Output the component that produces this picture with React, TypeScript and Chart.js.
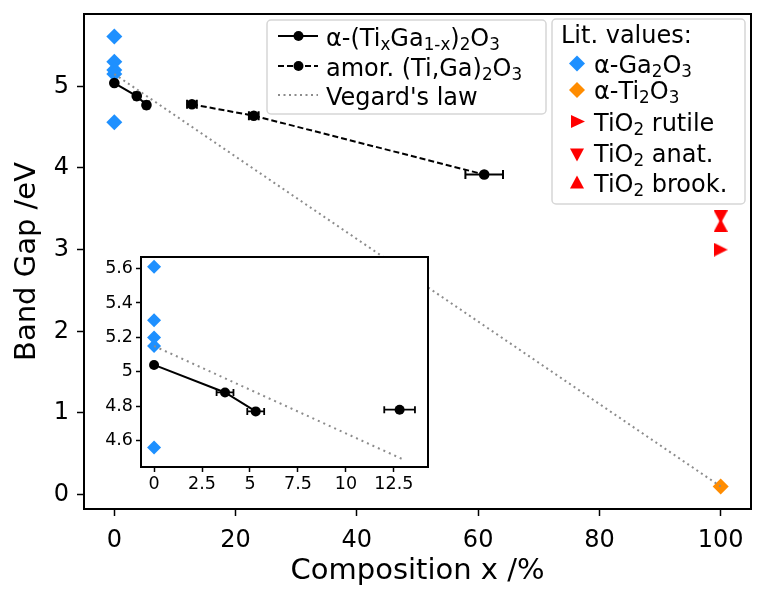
import React, { useEffect, useRef } from 'react';
import { Chart, registerables } from 'chart.js';

Chart.register(...registerables);

const FONT = "'DejaVu Sans', Verdana, sans-serif";

// ---------------- Data ----------------
const crystX = [0, 3.7, 5.3];
const crystY = [5.04, 4.88, 4.77];
const crystXErr = [0, 0.44, 0.44];

const amorX = [12.8, 23, 61];
const amorY = [4.78, 4.64, 3.92];
const amorXErr = [0.8, 0.8, 3.1];

const gaLitX = [0, 0, 0, 0, 0];
const gaLitY = [5.61, 5.3, 5.2, 5.15, 4.56];

const tiLitX = [100];
const tiLitY = [0.1];

const rutileX = [100];
const rutileY = [3.0];
const anataseX = [100];
const anataseY = [3.4];
const brookiteX = [100];
const brookiteY = [3.3];

const vegardX = [0, 100];
const vegardY = [5.15, 0.1];

const insetVegardX = [0, 13];
const insetVegardY = [5.15, 4.49];

const mainXTicks = [0, 20, 40, 60, 80, 100];
const mainYTicks = [0, 1, 2, 3, 4, 5];
const insetXTicks = [0, 2.5, 5, 7.5, 10, 12.5];
const insetYTicks = [4.6, 4.8, 5.0, 5.2, 5.4, 5.6];

const xTitle = 'Composition x /%';
const yTitle = 'Band Gap /eV';

type Seg = [string, boolean];
const legend1Labels: Seg[][] = [
  [['α-(Ti', false], ['x', true], ['Ga', false], ['1-x', true], [')', false], ['2', true], ['O', false], ['3', true]],
  [['amor. (Ti,Ga)', false], ['2', true], ['O', false], ['3', true]],
  [["Vegard's law", false]],
];
const legend2Title = 'Lit. values:';
const legend2Labels: Seg[][] = [
  [['α-Ga', false], ['2', true], ['O', false], ['3', true]],
  [['α-Ti', false], ['2', true], ['O', false], ['3', true]],
  [['TiO', false], ['2', true], [' rutile', false]],
  [['TiO', false], ['2', true], [' anat.', false]],
  [['TiO', false], ['2', true], [' brook.', false]],
];

const BLUE = '#1e90ff';
const ORANGE = '#ff8c00';
const RED = '#ff0000';
const GRAY = '#8c8c8c';

const pts = (xs: number[], ys: number[]) => xs.map((x, i) => ({ x, y: ys[i] }));

// ---------------- helpers ----------------
function triImg(dir: 'up' | 'down' | 'right', w: number, h: number, color: string) {
  const c = document.createElement('canvas');
  c.width = w;
  c.height = h;
  const g = c.getContext('2d')!;
  g.fillStyle = color;
  g.beginPath();
  if (dir === 'up') {
    g.moveTo(w / 2, 0); g.lineTo(w, h); g.lineTo(0, h);
  } else if (dir === 'down') {
    g.moveTo(0, 0); g.lineTo(w, 0); g.lineTo(w / 2, h);
  } else {
    g.moveTo(0, 0); g.lineTo(w, h / 2); g.lineTo(0, h);
  }
  g.closePath();
  g.fill();
  return c;
}

function drawRich(ctx: CanvasRenderingContext2D, segs: Seg[], x: number, y: number, size: number) {
  let cx = x;
  ctx.textAlign = 'left';
  ctx.textBaseline = 'alphabetic';
  ctx.fillStyle = '#000';
  for (const [t, sub] of segs) {
    const fs = sub ? size * 0.7 : size;
    ctx.font = `${fs}px ${FONT}`;
    ctx.fillText(t, cx, sub ? y + size * 0.18 : y);
    cx += ctx.measureText(t).width;
  }
}

function legendBox(ctx: CanvasRenderingContext2D, x: number, y: number, w: number, h: number) {
  ctx.save();
  ctx.fillStyle = 'rgba(255,255,255,0.85)';
  ctx.strokeStyle = '#d6d6d6';
  ctx.lineWidth = 1.5;
  ctx.beginPath();
  (ctx as any).roundRect(x, y, w, h, 4);
  ctx.fill();
  ctx.stroke();
  ctx.restore();
}

function diamond(ctx: CanvasRenderingContext2D, x: number, y: number, r: number, color: string) {
  ctx.fillStyle = color;
  ctx.beginPath();
  ctx.moveTo(x - r, y); ctx.lineTo(x, y - r); ctx.lineTo(x + r, y); ctx.lineTo(x, y + r);
  ctx.closePath();
  ctx.fill();
}

function tri(ctx: CanvasRenderingContext2D, dir: string, x: number, y: number, w: number, h: number, color: string) {
  ctx.fillStyle = color;
  ctx.beginPath();
  if (dir === 'up') {
    ctx.moveTo(x, y - h / 2); ctx.lineTo(x + w / 2, y + h / 2); ctx.lineTo(x - w / 2, y + h / 2);
  } else if (dir === 'down') {
    ctx.moveTo(x - w / 2, y - h / 2); ctx.lineTo(x + w / 2, y - h / 2); ctx.lineTo(x, y + h / 2);
  } else {
    ctx.moveTo(x - w / 2, y - h / 2); ctx.lineTo(x + w / 2, y); ctx.lineTo(x - w / 2, y + h / 2);
  }
  ctx.closePath();
  ctx.fill();
}

const errorBarPlugin = {
  id: 'errorBars',
  afterDatasetsDraw(chart: any) {
    const ctx = chart.ctx as CanvasRenderingContext2D;
    const xs = chart.scales.x;
    chart.data.datasets.forEach((ds: any, i: number) => {
      if (!ds.xerr) return;
      const meta = chart.getDatasetMeta(i);
      const cap = ds.capHalf || 4;
      ctx.save();
      ctx.strokeStyle = '#000';
      ctx.lineWidth = ds.errWidth || 2;
      ds.data.forEach((p: any, j: number) => {
        const e = ds.xerr[j];
        if (!e) return;
        const y = meta.data[j].y;
        const x1 = xs.getPixelForValue(p.x - e);
        const x2 = xs.getPixelForValue(p.x + e);
        ctx.beginPath();
        ctx.moveTo(x1, y); ctx.lineTo(x2, y);
        ctx.moveTo(x1, y - cap); ctx.lineTo(x1, y + cap);
        ctx.moveTo(x2, y - cap); ctx.lineTo(x2, y + cap);
        ctx.stroke();
      });
      ctx.restore();
    });
  },
};

const framePlugin = {
  id: 'frame',
  beforeDraw(chart: any) {
    const a = chart.chartArea;
    const ctx = chart.ctx;
    ctx.save();
    ctx.fillStyle = '#fff';
    ctx.fillRect(a.left, a.top, a.right - a.left, a.bottom - a.top);
    ctx.restore();
  },
  afterDatasetsDraw(chart: any) {
    const a = chart.chartArea;
    const ctx = chart.ctx;
    ctx.save();
    ctx.strokeStyle = '#000';
    ctx.lineWidth = 2;
    ctx.strokeRect(a.left, a.top, a.right - a.left, a.bottom - a.top);
    ctx.restore();
  },
};

const legendPlugin = {
  id: 'customLegend',
  afterDraw(chart: any) {
    const ctx = chart.ctx as CanvasRenderingContext2D;
    ctx.save();
    // Legend 1
    legendBox(ctx, 267, 20, 279, 94);
    const b1 = [46, 76, 105];
    b1.forEach((by, i) => {
      const hy = by - 10;
      ctx.save();
      ctx.strokeStyle = i === 2 ? GRAY : '#000';
      ctx.lineWidth = 2;
      if (i === 1) ctx.setLineDash([6, 3]);
      if (i === 2) ctx.setLineDash([2, 3.5]);
      ctx.beginPath();
      ctx.moveTo(278, hy); ctx.lineTo(318, hy);
      ctx.stroke();
      ctx.restore();
      if (i < 2) {
        ctx.fillStyle = '#000';
        ctx.beginPath();
        ctx.arc(298.5, hy, 5, 0, Math.PI * 2);
        ctx.fill();
      }
      drawRich(ctx, legend1Labels[i], 326, by, 24);
    });
    // Legend 2
    legendBox(ctx, 552, 19, 193, 185);
    drawRich(ctx, [[legend2Title, false]], 561, 43, 24);
    const b2 = [73, 99, 130.5, 161.5, 191.5];
    const m2 = [63.5, 90, 121.5, 155, 182];
    b2.forEach((by, i) => {
      const my = m2[i];
      if (i === 0) diamond(ctx, 577, my, 8, BLUE);
      if (i === 1) diamond(ctx, 577, my, 8, ORANGE);
      if (i === 2) tri(ctx, 'right', 578, my, 14, 13, RED);
      if (i === 3) tri(ctx, 'down', 577, my, 14, 13, RED);
      if (i === 4) tri(ctx, 'up', 577, my, 14, 13, RED);
      drawRich(ctx, legend2Labels[i], 594, by, 24);
    });
    ctx.restore();
  },
};

function tickGrid(len: number) {
  return {
    display: true,
    drawOnChartArea: false,
    drawTicks: true,
    tickLength: len,
    tickWidth: 1.5,
    tickColor: '#000',
  };
}

const noPad = (s: any) => {
  s.paddingTop = 0;
  s.paddingBottom = 0;
  s.paddingLeft = 0;
  s.paddingRight = 0;
};

export default function App() {
  const mainRef = useRef<HTMLCanvasElement>(null);
  const insetRef = useRef<HTMLCanvasElement>(null);

  useEffect(() => {
    Chart.defaults.font.family = FONT;
    Chart.defaults.color = '#000';

    const triRight = triImg('right', 14, 14, RED);
    const triDown = triImg('down', 14, 13, RED);
    const triUp = triImg('up', 14, 13, RED);

    const main = new Chart(mainRef.current!, {
      type: 'scatter',
      data: {
        datasets: [
          {
            data: pts(vegardX, vegardY), showLine: true, borderColor: GRAY, borderWidth: 2,
            borderDash: [2, 3.5], pointRadius: 0, order: 0,
          } as any,
          {
            data: pts(crystX, crystY), showLine: true, borderColor: '#000', borderWidth: 2,
            pointRadius: 5.3, pointBackgroundColor: '#000', pointBorderWidth: 0, order: 1,
            xerr: crystXErr, capHalf: 4.5,
          },
          {
            data: pts(amorX, amorY), showLine: true, borderColor: '#000', borderWidth: 2,
            borderDash: [6, 3], pointRadius: 5.3, pointBackgroundColor: '#000', pointBorderWidth: 0, order: 2,
            xerr: amorXErr, capHalf: 4.5,
          },
          {
            data: pts(gaLitX, gaLitY), pointStyle: 'rectRot', pointRadius: 8,
            pointBackgroundColor: BLUE, pointBorderWidth: 0, order: 3,
          },
          {
            data: pts(tiLitX, tiLitY), pointStyle: 'rectRot', pointRadius: 8,
            pointBackgroundColor: ORANGE, pointBorderWidth: 0, order: 3,
          },
          { data: pts(rutileX, rutileY), pointStyle: triRight, pointRadius: 7, order: 3 },
          { data: pts(anataseX, anataseY), pointStyle: triDown, pointRadius: 7, order: 3 },
          { data: pts(brookiteX, brookiteY), pointStyle: triUp, pointRadius: 7, order: 3 },
        ] as any,
      },
      options: {
        responsive: false,
        animation: false,
        events: [],
        layout: { padding: { left: 0, right: 15, top: 14, bottom: 0 } },
        plugins: { legend: { display: false }, tooltip: { enabled: false } },
        scales: {
          x: {
            type: 'linear', min: -5, max: 105,
            afterBuildTicks: (s: any) => { s.ticks = mainXTicks.map((v) => ({ value: v })); },
            afterFit: (s: any) => { s.height = 85; noPad(s); },
            grid: tickGrid(7) as any,
            border: { display: false },
            ticks: { font: { size: 24 }, padding: 10, color: '#000', maxRotation: 0 },
            title: { display: true, text: xTitle, font: { size: 29 }, color: '#000', padding: { top: 0, bottom: 5 } },
          },
          y: {
            type: 'linear', min: -0.1755, max: 5.8855,
            afterBuildTicks: (s: any) => { s.ticks = mainYTicks.map((v) => ({ value: v })); },
            afterFit: (s: any) => { s.width = 84; noPad(s); },
            grid: tickGrid(7) as any,
            border: { display: false },
            ticks: { font: { size: 24 }, padding: 8, color: '#000' },
            title: { display: true, text: yTitle, font: { size: 29 }, color: '#000', padding: { top: 10, bottom: 0 } },
          },
        },
      } as any,
      plugins: [framePlugin, errorBarPlugin, legendPlugin],
    });

    const inset = new Chart(insetRef.current!, {
      type: 'scatter',
      data: {
        datasets: [
          {
            data: pts(insetVegardX, insetVegardY), showLine: true, borderColor: GRAY, borderWidth: 2,
            borderDash: [2, 4], pointRadius: 0, order: 0,
          } as any,
          {
            data: pts(crystX, crystY), showLine: true, borderColor: '#000', borderWidth: 2,
            pointRadius: 5, pointBackgroundColor: '#000', pointBorderWidth: 0, order: 1,
            xerr: crystXErr, capHalf: 3.5, errWidth: 1.8,
          },
          {
            data: pts(amorX.slice(0, 1), amorY.slice(0, 1)), showLine: false,
            pointRadius: 5, pointBackgroundColor: '#000', pointBorderWidth: 0, order: 2,
            xerr: amorXErr.slice(0, 1), capHalf: 3.5, errWidth: 1.8,
          },
          {
            data: pts(gaLitX, gaLitY), pointStyle: 'rectRot', pointRadius: 7,
            pointBackgroundColor: BLUE, pointBorderWidth: 0, order: 3,
          },
        ] as any,
      },
      options: {
        responsive: false,
        animation: false,
        events: [],
        layout: { padding: { left: 0, right: 12, top: 4, bottom: 0 } },
        plugins: { legend: { display: false }, tooltip: { enabled: false } },
        scales: {
          x: {
            type: 'linear', min: -0.68, max: 14.28,
            afterBuildTicks: (s: any) => { s.ticks = insetXTicks.map((v) => ({ value: v })); },
            afterFit: (s: any) => { s.height = 33; noPad(s); },
            grid: tickGrid(5) as any,
            border: { display: false },
            ticks: { font: { size: 17.5 }, padding: 2, color: '#000', maxRotation: 0,
              callback: (v: any) => String(v) },
          },
          y: {
            type: 'linear', min: 4.447, max: 5.667,
            afterBuildTicks: (s: any) => { s.ticks = insetYTicks.map((v) => ({ value: v })); },
            afterFit: (s: any) => { s.width = 46; noPad(s); },
            grid: tickGrid(5) as any,
            border: { display: false },
            ticks: { font: { size: 17.5 }, padding: 3, color: '#000',
              callback: (v: any) => (Math.abs(v - 5) < 1e-9 ? '5' : Number(v).toFixed(1)) },
          },
        },
      } as any,
      plugins: [framePlugin, errorBarPlugin],
    });

    return () => {
      main.destroy();
      inset.destroy();
    };
  }, []);

  return (
    <div style={{ position: 'absolute', left: 0, top: 0, width: 766, height: 594, background: '#fff' }}>
      <canvas ref={mainRef} width={766} height={594} style={{ position: 'absolute', left: 0, top: 0, display: 'block' }} />
      <canvas ref={insetRef} width={345} height={250} style={{ position: 'absolute', left: 95, top: 250, display: 'block' }} />
    </div>
  );
}
